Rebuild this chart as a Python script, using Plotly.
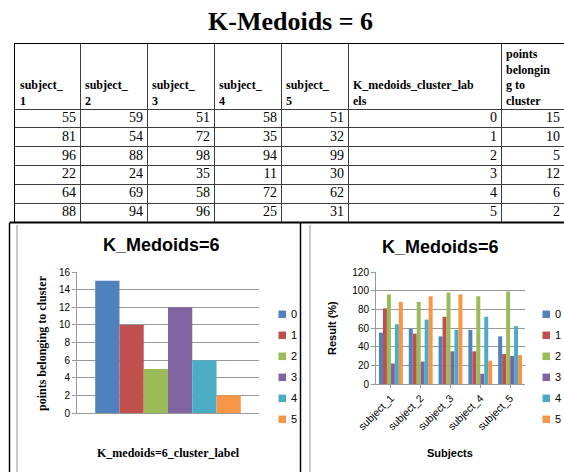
import plotly.graph_objects as go

# ---- data -------------------------------------------------------------
subjects = ["subject_1", "subject_2", "subject_3", "subject_4", "subject_5"]
cluster_labels = [0, 1, 2, 3, 4, 5]
subject_1 = [55, 81, 96, 22, 64, 88]
subject_2 = [59, 54, 88, 24, 69, 94]
subject_3 = [51, 72, 98, 35, 58, 96]
subject_4 = [58, 35, 94, 11, 72, 25]
subject_5 = [51, 32, 99, 30, 62, 31]
points_in_cluster = [15, 10, 5, 12, 6, 2]

header_labels = [
    "subject_<br>1", "subject_<br>2", "subject_<br>3", "subject_<br>4",
    "subject_<br>5", "K_medoids_cluster_lab<br>els",
    "points<br>belongin<br>g to<br>cluster",
]

colors = ["#4F81BD", "#C0504D", "#9BBB59", "#8064A2", "#4BACC6", "#F79646"]

W, H = 564, 472


def px(x):
    return x / W


def py(y):
    return 1 - y / H


fig = go.Figure()

# ---- table (text traces on their own axes, borders from the grid) ----
subject_cols = [subject_1, subject_2, subject_3, subject_4, subject_5]
table_cols = subject_cols + [cluster_labels, points_in_cluster]

col_w = [65, 67, 67, 67, 67, 153, 63]
bounds = [0]
for w in col_w:
    bounds.append(bounds[-1] + w)
head_h, row_h = 65, 18.83
n_rows = len(cluster_labels)
row_bounds = [head_h + row_h * k for k in range(n_rows + 1)]
row_mid = [head_h + row_h * (k + 0.5) for k in range(n_rows)]

cell_x, cell_y, cell_t = [], [], []
for j, col in enumerate(table_cols):
    for i, v in enumerate(col):
        cell_x.append(bounds[j + 1] - 4)
        cell_y.append(row_mid[i])
        cell_t.append(str(v))

fig.add_trace(go.Scatter(
    x=cell_x, y=cell_y, text=cell_t, mode="text",
    textposition="middle left", cliponaxis=False, showlegend=False,
    textfont=dict(family="Liberation Serif", size=14, color="black"),
    xaxis="x3", yaxis="y3", hoverinfo="skip",
))
fig.add_trace(go.Scatter(
    x=[b + 5 for b in bounds[:-1]], y=[head_h - 1] * len(header_labels),
    text=["<b>" + h.replace("<br>", "</b><br><b>") + "</b>" for h in header_labels],
    mode="text", textposition="top right", cliponaxis=False, showlegend=False,
    textfont=dict(family="Liberation Serif", size=12, color="black"),
    xaxis="x3", yaxis="y3", hoverinfo="skip",
))

# ---- left chart: points per cluster ----------------------------------
for lab, n, c in zip(cluster_labels, points_in_cluster, colors):
    fig.add_trace(go.Bar(
        x=["K_medoids=6_cluster_label"], y=[n], name=str(lab),
        marker=dict(color=c, line=dict(width=0)),
        xaxis="x", yaxis="y", showlegend=False,
    ))

# ---- right chart: subject results per cluster ------------------------
for i, (lab, c) in enumerate(zip(cluster_labels, colors)):
    fig.add_trace(go.Bar(
        x=subjects, y=[col[i] for col in subject_cols], name=str(lab),
        marker=dict(color=c, line=dict(width=0)),
        xaxis="x2", yaxis="y2", showlegend=False,
    ))

grid = "#9a9a9a"
tickfont = dict(family="Liberation Sans", size=10, color="black")

fig.update_layout(
    width=W, height=H, autosize=False,
    margin=dict(l=0, r=0, t=0, b=0, autoexpand=False),
    paper_bgcolor="white", plot_bgcolor="white",
    barmode="group", bargap=0.2, bargroupgap=0,
    xaxis=dict(domain=[px(77), px(259)], showticklabels=False, ticks="",
               showline=True, linecolor=grid, linewidth=1, anchor="y"),
    yaxis=dict(domain=[py(413), py(272)], range=[0, 16], dtick=2,
               showgrid=True, gridcolor=grid, gridwidth=1,
               showline=True, linecolor=grid, ticks="outside", ticklen=4,
               tickcolor=grid, tickfont=tickfont, anchor="x", zeroline=False),
    xaxis2=dict(domain=[px(376), px(525)], tickangle=-45,
                tickfont=dict(family="Liberation Sans", size=10.5, color="black"),
                showline=True, linecolor=grid, ticks="outside", ticklen=3,
                tickcolor=grid, anchor="y2"),
    yaxis2=dict(domain=[py(384), py(272)], range=[0, 120], dtick=20,
                showgrid=True, gridcolor=grid, gridwidth=1,
                showline=True, linecolor=grid, ticks="outside", ticklen=4,
                tickcolor=grid, tickfont=tickfont, anchor="x2", zeroline=False),
    xaxis3=dict(domain=[px(15), 1], range=[0, bounds[-1]], anchor="y3",
                tickvals=bounds[1:-1], showticklabels=False, ticks="",
                showgrid=True, gridcolor="#3c3c3c", gridwidth=1,
                zeroline=False, showline=True, mirror=True,
                linecolor="black", linewidth=1),
    yaxis3=dict(domain=[py(222), py(44)], range=[row_bounds[-1], 0],
                anchor="x3", tickvals=row_bounds[:-1],
                showticklabels=False, ticks="",
                showgrid=True, gridcolor="#3c3c3c", gridwidth=1,
                zeroline=False, showline=True, mirror=True,
                linecolor="black", linewidth=1),
    showlegend=False,
)

# ---- legends (swatch + label for each cluster) -----------------------
for sq_x in (278.5, 542.5):
    for i, (lab, c) in enumerate(zip(cluster_labels, colors)):
        cy = 314.3 + 21 * i
        fig.add_shape(type="rect", xref="paper", yref="paper",
                      x0=px(sq_x), x1=px(sq_x + 7.5),
                      y0=py(cy + 3.75), y1=py(cy - 3.75),
                      fillcolor=c, line=dict(width=0))
        fig.add_annotation(xref="paper", yref="paper", showarrow=False,
                           x=px(sq_x + 10.5), y=py(cy), xanchor="left",
                           yanchor="middle", text=str(lab),
                           font=dict(family="Liberation Sans", size=11,
                                     color="black"))

# ---- titles and axis labels -----------------------------------------
ann = [
    dict(text="<b>K-Medoids = 6</b>", x=px(290), y=py(22),
         font=dict(family="Liberation Serif", size=26, color="black")),
    dict(text="<b>K_Medoids=6</b>", x=px(161), y=py(245),
         font=dict(family="Liberation Sans", size=18, color="black")),
    dict(text="<b>K_Medoids=6</b>", x=px(440), y=py(247),
         font=dict(family="Liberation Sans", size=18, color="black")),
    dict(text="<b>points belonging to cluster</b>", x=px(42), y=py(343),
         textangle=-90,
         font=dict(family="Liberation Serif", size=12, color="black")),
    dict(text="<b>K_medoids=6_cluster_label</b>", x=px(168), y=py(453),
         font=dict(family="Liberation Serif", size=12, color="black")),
    dict(text="<b>Result (%)</b>", x=px(332), y=py(328), textangle=-90,
         font=dict(family="Liberation Sans", size=11, color="black")),
    dict(text="<b>Subjects</b>", x=px(450), y=py(453),
         font=dict(family="Liberation Sans", size=11, color="black")),
]
for a in ann:
    fig.add_annotation(xref="paper", yref="paper", showarrow=False,
                       xanchor="center", yanchor="middle", **a)

# ---- chart frames ----------------------------------------------------
frame = [
    (9.5, 223, 9.5, H, "black", 1.5),
    (300.5, 223, 300.5, H, "black", 1.5),
    (17, 225, 17, H, "#c8c8c8", 2),
    (310, 225, 310, H, "#c8c8c8", 2),
    (9.5, 222.5, W, 222.5, "black", 2),
]
for x0, y0, x1, y1, col, w in frame:
    fig.add_shape(type="line", xref="paper", yref="paper",
                  x0=px(x0), y0=py(y0), x1=px(x1), y1=py(y1),
                  line=dict(color=col, width=w))

fig.write_html("out.html")
